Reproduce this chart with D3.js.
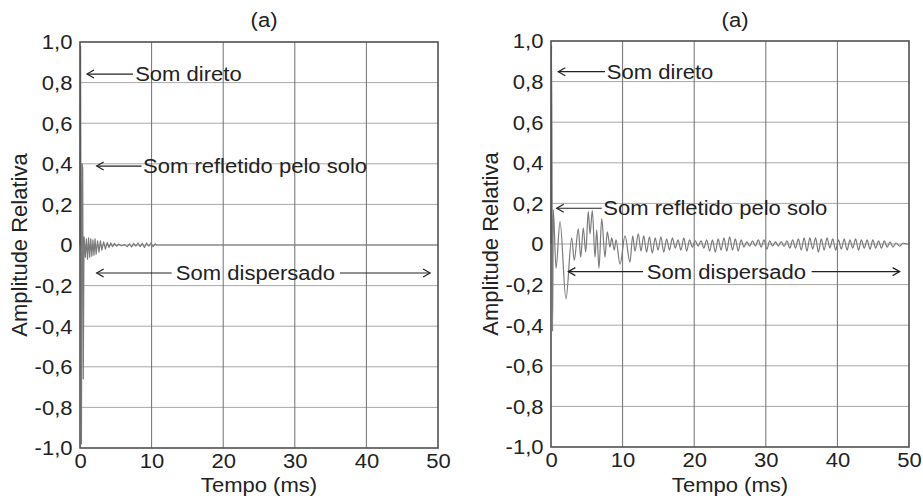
<!DOCTYPE html>
<html>
<head>
<meta charset="utf-8">
<script src="https://cdn.jsdelivr.net/npm/d3@7"></script>
<style>
  html, body { margin: 0; padding: 0; background: #fff; }
  svg { display: block; }
  text { font-family: "Liberation Sans", Arial, sans-serif; fill: #222; }
</style>
</head>
<body>
<svg id="chart" width="923" height="499"></svg>
<script>
// ---------- data ----------
const xTicks = [0, 10, 20, 30, 40, 50];
const yTicks = [-1, -0.8, -0.6, -0.4, -0.2, 0, 0.2, 0.4, 0.6, 0.8, 1];
const yTickLabels = ["-1,0", "-0,8", "-0,6", "-0,4", "-0,2", "0", "0,2", "0,4", "0,6", "0,8", "1,0"];
const panelTitles = ["(a)", "(a)"];
const xTitle = "Tempo (ms)";
const yTitle = "Amplitude Relativa";
const labels = ["Som direto", "Som refletido pelo solo", "Som dispersado"];

// impulse response, left panel: [time ms, relative amplitude]
const leftSignal = [
  [0, 0], [0.08, 0.98], [0.2, -0.98], [0.3, 0.4], [0.38, 0.38], [0.46, -0.66], [0.56, 0.04],
  [0.6, 0.03], [0.75, -0.06], [0.9, 0.03], [1.05, -0.07], [1.2, 0.035], [1.35, -0.06],
  [1.5, 0.03], [1.65, -0.055], [1.8, 0.025], [1.95, -0.05], [2.1, 0.03], [2.25, -0.045],
  [2.45, 0.02], [2.65, -0.035], [2.85, 0.02], [3.05, -0.025], [3.3, 0.015], [3.55, -0.02],
  [3.8, 0.012], [4.05, -0.012], [4.3, 0.01], [4.55, -0.008], [4.8, 0.008], [5.1, -0.006],
  [5.4, 0.004], [5.8, -0.004], [6.2, 0.002], [6.6, -0.008], [6.9, 0.006], [7.2, -0.01],
  [7.5, 0.008], [7.8, -0.006], [8.1, 0.01], [8.4, -0.008], [8.7, 0.008], [9.0, -0.012],
  [9.3, 0.01], [9.6, -0.006], [9.9, 0.01], [10.2, -0.008], [10.5, 0.006], [10.7, 0], [50, 0]
];

// impulse response, right panel
const rightSignal = [
  [0, 0], [0.08, 0.98], [0.22, -0.43], [0.32, 0.17], [0.7, -0.12], [1.26, 0.11], [2.09, -0.27],
  [2.89, 0.03], [3.25, -0.08], [3.81, 0.075], [4.15, -0.065], [4.51, 0.08], [4.85, -0.04],
  [5.21, 0.16], [5.45, 0.05], [5.77, 0.165], [6.15, -0.065], [6.38, 0.07], [6.7, -0.12],
  [7.08, 0.125], [7.54, -0.065], [7.86, 0.06], [8.24, -0.015], [8.48, 0.03], [8.84, -0.03],
  [9.08, 0.02], [9.64, -0.1], [10.34, 0.04], [11.03, -0.09], [11.41, 0.04], [11.73, -0.035],
  [12.19, 0.05], [12.57, -0.035], [12.95, 0.04], [13.35, -0.04], [13.75, 0.035], [14.15, -0.045],
  [14.55, 0.03], [14.95, -0.03], [15.35, 0.035], [15.75, -0.04], [16.15, 0.025], [16.55, -0.03],
  [16.95, 0.03], [17.35, -0.02], [17.75, 0.02], [18.15, -0.03], [18.55, 0.03], [18.95, -0.035],
  [19.35, 0.02], [19.75, -0.015], [20.15, 0.015], [20.55, -0.01], [20.95, 0.015], [21.35, -0.02],
  [21.75, 0.02], [22.15, -0.035], [22.55, 0.02], [22.95, -0.04], [23.35, 0.025], [23.75, -0.03],
  [24.15, 0.03], [24.55, -0.035], [24.95, 0.035], [25.35, -0.03], [25.75, 0.025], [26.15, -0.035],
  [26.55, 0.02], [26.95, -0.015], [27.35, 0.01], [27.75, -0.01], [28.15, 0.015], [28.55, -0.01],
  [28.95, 0.02], [29.35, -0.015], [29.75, 0.02], [30.15, -0.025], [30.55, 0.015], [30.95, -0.01],
  [31.35, 0.01], [31.75, -0.01], [32.15, 0.012], [32.55, -0.012], [32.95, 0.015], [33.35, -0.02],
  [33.75, 0.02], [34.15, -0.02], [34.55, 0.025], [34.95, -0.03], [35.35, 0.03], [35.75, -0.035],
  [36.15, 0.03], [36.55, -0.025], [36.95, 0.03], [37.35, -0.04], [37.75, 0.025], [38.15, -0.03],
  [38.55, 0.03], [38.95, -0.02], [39.35, 0.025], [39.75, -0.03], [40.15, 0.02], [40.55, -0.025],
  [40.95, 0.025], [41.35, -0.03], [41.75, 0.02], [42.15, -0.02], [42.55, 0.025], [42.95, -0.03],
  [43.35, 0.02], [43.75, -0.02], [44.15, 0.02], [44.55, -0.025], [44.95, 0.02], [45.35, -0.02],
  [45.75, 0.015], [46.15, -0.02], [46.55, 0.015], [46.95, -0.015], [47.35, 0.01], [47.75, -0.015],
  [48.2, 0.005], [48.7, -0.01], [49.2, 0.005], [49.6, 0], [50, 0]
];

// ---------- drawing ----------
const SX = 1.13;           // horizontal stretch of the original lettering
const FS = 19.5;
const svg = d3.select("#chart");

function txt(g, x, y, s, anchor) {
  return g.append("text")
    .attr("transform", `translate(${x},${y}) scale(${SX},1)`)
    .attr("text-anchor", anchor || "start")
    .style("font-size", FS + "px")
    .text(s);
}

function chevron(g, x, y, dir) {
  g.append("path")
    .attr("d", `M${x + dir * 7},${y - 4}L${x},${y}L${x + dir * 7},${y + 4}`)
    .attr("fill", "none").attr("stroke", "#222").attr("stroke-width", 1.2);
}
function hline(g, x1, x2, y) {
  g.append("line").attr("x1", x1).attr("x2", x2).attr("y1", y).attr("y2", y)
    .attr("stroke", "#222").attr("stroke-width", 1.2);
}

const panels = [
  {
    signal: leftSignal, x0: 80, x1: 438, y0: 42, y1: 448, curve: d3.curveLinear,
    titleX: 264, yLabelX: 27,
    ann: {
      direto: { head: 0.98, end: 7.4, text: 7.7, v: 0.842 },
      refl: { head: 2.33, end: 8.6, text: 8.8, v: 0.389 },
      disp: { head1: 2.33, end1: 12.8, mid: 24.5, start2: 36.3, head2: 48.9, v: -0.138 }
    }
  },
  {
    signal: rightSignal, x0: 551, x1: 909, y0: 41, y1: 447, curve: d3.curveMonotoneX,
    titleX: 735, yLabelX: 498,
    ann: {
      direto: { head: 1.02, end: 7.54, text: 7.8, v: 0.849 },
      refl: { head: 0.8, end: 7.08, text: 7.3, v: 0.176 },
      disp: { head1: 2.42, end1: 12.85, mid: 24.5, start2: 36.4, head2: 48.7, v: -0.136 }
    }
  }
];

panels.forEach((p, i) => {
  const x = d3.scaleLinear().domain([0, 50]).range([p.x0, p.x1]);
  const y = d3.scaleLinear().domain([-1, 1]).range([p.y1, p.y0]);
  const g = svg.append("g");

  // grid
  g.selectAll(".hg").data(yTicks.slice(1, -1)).join("line")
    .attr("x1", p.x0).attr("x2", p.x1)
    .attr("y1", d => y(d)).attr("y2", d => y(d))
    .attr("stroke", "#a8a8a8").attr("stroke-width", 1);
  g.selectAll(".vg").data(xTicks.slice(1, -1)).join("line")
    .attr("x1", d => x(d)).attr("x2", d => x(d))
    .attr("y1", p.y0).attr("y2", p.y1)
    .attr("stroke", "#707070").attr("stroke-width", 1);

  // signal
  const line = d3.line().x(d => x(d[0])).y(d => y(d[1])).curve(p.curve);
  g.append("path").datum(p.signal)
    .attr("d", line).attr("fill", "none")
    .attr("stroke", "#7a7a7a").attr("stroke-width", 1.2)
    .attr("stroke-linejoin", "round");

  // frame
  g.append("rect").attr("x", p.x0).attr("y", p.y0)
    .attr("width", p.x1 - p.x0).attr("height", p.y1 - p.y0)
    .attr("fill", "none").attr("stroke", "#505050").attr("stroke-width", 1.6);

  // axes
  const ya = d3.axisLeft(y).tickValues(yTicks).tickSize(0).tickPadding(0)
    .tickFormat((d, k) => yTickLabels[k]);
  const yg = g.append("g").attr("transform", `translate(${p.x0},0)`).call(ya);
  yg.select(".domain").remove();
  yg.selectAll("text").attr("x", -7.5 / SX).attr("dy", "0.35em")
    .attr("transform", `scale(${SX},1)`)
    .style("font-size", FS + "px").style("font-family", "'Liberation Sans', Arial, sans-serif")
    .attr("fill", "#222");

  const xa = d3.axisBottom(x).tickValues(xTicks).tickSize(0).tickPadding(0);
  const xg = g.append("g").attr("transform", `translate(0,${p.y1})`).call(xa);
  xg.select(".domain").remove();
  xg.selectAll("text").attr("y", 20).attr("dy", 0)
    .attr("transform", `scale(${SX},1)`)
    .style("font-size", FS + "px").style("font-family", "'Liberation Sans', Arial, sans-serif")
    .attr("fill", "#222");

  // titles
  txt(g, p.titleX, 27, panelTitles[i], "middle");
  txt(g, (p.x0 + p.x1) / 2, 492, xTitle, "middle");
  g.append("text")
    .attr("transform", `translate(${p.yLabelX},${(p.y0 + p.y1) / 2}) rotate(-90)`)
    .attr("text-anchor", "middle")
    .style("font-size", "22px")
    .text(yTitle);

  // annotations
  const a = p.ann;
  let yy = y(a.direto.v);
  chevron(g, x(a.direto.head), yy, 1);
  hline(g, x(a.direto.head), x(a.direto.end), yy);
  txt(g, x(a.direto.text), yy + 7, labels[0]);

  yy = y(a.refl.v);
  chevron(g, x(a.refl.head), yy, 1);
  hline(g, x(a.refl.head), x(a.refl.end), yy);
  txt(g, x(a.refl.text), yy + 7, labels[1]);

  yy = y(a.disp.v);
  chevron(g, x(a.disp.head1), yy, 1);
  hline(g, x(a.disp.head1), x(a.disp.end1), yy);
  txt(g, x(a.disp.mid), yy + 7, labels[2], "middle");
  hline(g, x(a.disp.start2), x(a.disp.head2), yy);
  chevron(g, x(a.disp.head2), yy, -1);
});
</script>
</body>
</html>
